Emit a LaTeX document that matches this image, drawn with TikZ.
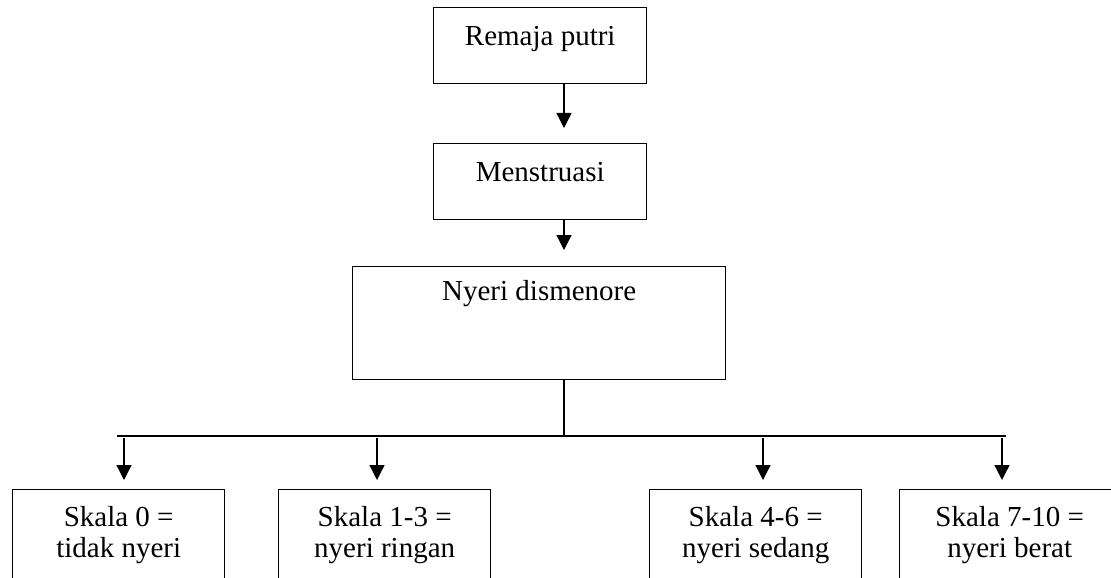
\documentclass[tikz,border=0pt]{standalone}
\usepackage{fontspec}
\setmainfont{Liberation Serif}
\usetikzlibrary{arrows.meta}
\newcommand{\widthbox}{106.5pt}
\newcommand{\widthwide}{186.5pt}
\newcommand{\widthscale}{106pt}
\tikzset{
    common/.style={anchor=north west, draw, rectangle, line width=0.7pt, inner xsep=0pt, inner ysep=0pt,
        align=center, font=\fontsize{14.5pt}{15.5pt}\selectfont},
    upper/.style={common, minimum width=\widthbox, text height=19pt, text depth=19pt},
    wide/.style={common, minimum width=\widthwide, text height=17pt, text depth=39.5pt},
    scalebox/.style={common, minimum width=\widthscale, text height=34pt, text depth=21.5pt},
    arrow/.style={-{Triangle[width=7.5pt, length=7.5pt]}, line width=0.65pt},
    link/.style={line width=0.65pt}
}
\begin{document}
\begin{tikzpicture}[x=0.5pt, y=-0.5pt]
    \useasboundingbox (0,0) rectangle (1111,577);
    \clip (0,0) rectangle (1111,577);

    \node[upper] (remaja) at (433,7) {Remaja putri};
    \node[upper] (mens) at (433,143) {Menstruasi};
    \node[wide] (nyeri) at (352,266) {Nyeri dismenore};

    \node[scalebox] (s0) at (12,489) {Skala 0 =\\tidak nyeri};
    \node[scalebox] (s1) at (278,489) {Skala 1-3 =\\nyeri ringan};
    \node[scalebox] (s2) at (649,489) {Skala 4-6 =\\nyeri sedang};
    \node[scalebox, minimum width=110pt] (s3) at (899,489) {Skala 7-10 =\\nyeri berat};

    \coordinate (axis) at (564,0);
    \coordinate (busL) at (117,436);
    \coordinate (busR) at (1006,436);
    \coordinate (d0) at (124,436);
    \coordinate (d1) at (377,436);
    \coordinate (d2) at (763,436);
    \coordinate (d3) at (1002,436);

    \draw[arrow, shorten >=7.5pt] (remaja.south -| axis) -- (mens.north -| axis);
    \draw[arrow, shorten >=8pt] (mens.south -| axis) -- (nyeri.north -| axis);
    \draw[link] (nyeri.south -| axis) -- (axis |- busL);
    \draw[link] (busL) -- (busR);

    \draw[arrow, shorten <=1pt, shorten >=4.5pt] (d0) -- (d0 |- s0.north);
    \draw[arrow, shorten <=1pt, shorten >=4.5pt] (d1) -- (d1 |- s1.north);
    \draw[arrow, shorten <=1pt, shorten >=4.5pt] (d2) -- (d2 |- s2.north);
    \draw[arrow, shorten <=1pt, shorten >=4.5pt] (d3) -- (d3 |- s3.north);
\end{tikzpicture}
\end{document}
